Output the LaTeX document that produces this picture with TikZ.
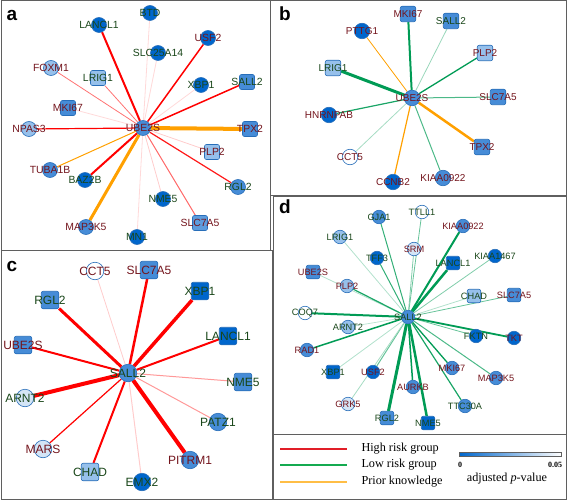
\documentclass[tikz,border=0pt]{standalone}
\usepackage{fontspec}
\setmainfont{Liberation Serif}
\setsansfont{Liberation Sans}
\usetikzlibrary{positioning}
\pgfdeclarelayer{bg}
\pgfsetlayers{bg,main}
\definecolor{hired}{RGB}{255,0,0}
\definecolor{logreen}{RGB}{0,155,85}
\definecolor{prior}{RGB}{255,160,0}
\definecolor{dkblue}{RGB}{0,102,204}
\definecolor{mdblue}{RGB}{70,140,215}
\definecolor{ltblue}{RGB}{150,192,235}
\definecolor{plblue}{RGB}{212,229,246}
\definecolor{ndline}{RGB}{40,110,185}
\definecolor{lbred}{RGB}{115,20,28}
\definecolor{lbgreen}{RGB}{25,70,25}
\definecolor{legred}{RGB}{225,30,40}
\definecolor{leggreen}{RGB}{20,170,80}
\definecolor{legorange}{RGB}{255,190,70}
\definecolor{frame}{RGB}{95,95,95}

\begin{document}
\begin{tikzpicture}[x=1pt,y=-1pt,
  gene/.style={inner sep=0pt,minimum size=15pt,draw=ndline,line width=0.6pt,
    font=\sffamily\fontsize{10.4}{10.4}\selectfont,
    execute at begin node={\hbox to 0pt\bgroup\hss},
    execute at end node={\hss\egroup}},
  cir/.style={gene,circle},
  sqr/.style={gene,rectangle,rounded corners=2pt},
  dk/.style={fill=dkblue}, md/.style={fill=mdblue}, lm/.style={fill=mdblue!70!ltblue},
  lt/.style={fill=ltblue}, pl/.style={fill=plblue}, wh/.style={fill=white},
  rtx/.style={text=lbred}, gtx/.style={text=lbgreen},
  hr/.style={draw=hired!#1!white}, lr/.style={draw=logreen!#1!white},
  pk/.style={draw=prior}, lw/.style={line width=#1pt},
  panel/.style={font=\sffamily\bfseries\fontsize{19}{19}\selectfont},
  box/.style={draw=frame,line width=0.8pt},
  legline/.style={line width=2.6pt},
  legtext/.style={anchor=west,font=\fontsize{12.2}{12.2}\selectfont}]
\useasboundingbox (0,0) rectangle (567,500);

% frames
\draw[box] (1.5,0.5) rectangle (270,250);
\draw[box] (270,0.5) rectangle (566,195);
\draw[box] (1.5,250) rectangle (272,499.5);
\draw[box] (273,196) rectangle (566,434);
\draw[box] (273,434) rectangle (566,499.5);

% panel a
\node[panel] (pa) at (12,15) {a};
\node[cir,md,rtx] (aUBE2S) at (143,128) {UBE2S};
\node[cir,dk,gtx] (aBTD) at (150,13) {BTD};
\node[cir,dk,gtx] (aLANCL1) at (99,25) {LANCL1};
\node[cir,dk,rtx] (aUSF2) at (208,38) {USF2};
\node[cir,dk,gtx] (aSLC25A14) at (158,53) {SLC25A14};
\node[cir,lt,rtx] (aFOXM1) at (51,68) {FOXM1};
\node[sqr,lt,gtx] (aLRIG1) at (98,78) {LRIG1};
\node[cir,dk,gtx] (aXBP1) at (201,85) {XBP1};
\node[sqr,md,gtx] (aSALL2) at (247,82) {SALL2};
\node[sqr,md,rtx] (aMKI67) at (68,108) {MKI67};
\node[cir,lt,rtx] (aNPAS3) at (29,129) {NPAS3};
\node[sqr,md,rtx] (aTPX2) at (250,129) {TPX2};
\node[sqr,lt,rtx] (aPLP2) at (212,152) {PLP2};
\node[cir,md,rtx] (aTUBA1B) at (50,170) {TUBA1B};
\node[cir,dk,gtx] (aBAZ2B) at (85,180) {BAZ2B};
\node[cir,md,gtx] (aRGL2) at (238,187) {RGL2};
\node[cir,dk,gtx] (aNME5) at (163,199) {NME5};
\node[sqr,lm,rtx] (aSLC7A5) at (200,223) {SLC7A5};
\node[cir,md,rtx] (aMAP3K5) at (86,227) {MAP3K5};
\node[cir,dk,gtx] (aMN1) at (137,237) {MN1};
\begin{pgfonlayer}{bg}
\path (aUBE2S) edge[hr=15,lw=0.8] (aBTD)
               edge[hr=100,lw=2] (aLANCL1)
               edge[hr=100,lw=1.5] (aUSF2)
               edge[hr=15,lw=0.8] (aSLC25A14)
               edge[hr=55,lw=0.8] (aFOXM1)
               edge[hr=55,lw=0.8] (aLRIG1)
               edge[hr=15,lw=0.8] (aXBP1)
               edge[hr=100,lw=1.5] (aSALL2)
               edge[hr=15,lw=0.8] (aMKI67)
               edge[hr=100,lw=1.2] (aNPAS3)
               edge[pk,lw=4] (aTPX2)
               edge[hr=20,lw=0.8] (aPLP2)
               edge[pk,lw=1] (aTUBA1B)
               edge[hr=100,lw=2] (aBAZ2B)
               edge[hr=90,lw=1.2] (aRGL2)
               edge[hr=20,lw=0.8] (aNME5)
               edge[hr=60,lw=1] (aSLC7A5)
               edge[pk,lw=3] (aMAP3K5)
               edge[hr=15,lw=0.8] (aMN1);
\end{pgfonlayer}

% panel b
\node[panel] (pb) at (285,14) {b};
\begin{scope}[gene/.append style={minimum size=15.5pt,font=\sffamily\fontsize{10}{10}\selectfont}]
\node[cir,md,rtx] (bUBE2S) at (412,98) {UBE2S};
\node[sqr,md,rtx] (bMKI67) at (408,14) {MKI67};
\node[sqr,md,gtx] (bSALL2) at (451,21) {SALL2};
\node[cir,dk,rtx] (bPTTG1) at (362,31) {PTTG1};
\node[sqr,lt,rtx] (bPLP2) at (485,53) {PLP2};
\node[sqr,lt,gtx] (bLRIG1) at (333,68) {LRIG1};
\node[sqr,md,rtx] (bSLC7A5) at (498,97) {SLC7A5};
\node[cir,dk,rtx] (bHNRNPAB) at (329,115) {HNRNPAB};
\node[sqr,md,rtx] (bTPX2) at (482,147) {TPX2};
\node[cir,wh,rtx] (bCCT5) at (350,157) {CCT5};
\node[cir,dk,rtx] (bCCNB2) at (393,182) {CCNB2};
\node[cir,md,rtx] (bKIAA0922) at (443,178) {KIAA0922};
\end{scope}
\begin{pgfonlayer}{bg}
\path (bUBE2S) edge[lr=100,lw=2] (bMKI67)
               edge[lr=40,lw=0.8] (bSALL2)
               edge[pk,lw=0.8] (bPTTG1)
               edge[lr=100,lw=1.3] (bPLP2)
               edge[lr=100,lw=3] (bLRIG1)
               edge[lr=70,lw=1] (bSLC7A5)
               edge[lr=90,lw=1.2] (bHNRNPAB)
               edge[pk,lw=2.5] (bTPX2)
               edge[lr=35,lw=0.8] (bCCT5)
               edge[pk,lw=1.2] (bCCNB2)
               edge[lr=70,lw=1] (bKIAA0922);
\end{pgfonlayer}

% panel c
\node[panel] (pc) at (12,266) {c};
\begin{scope}[gene/.append style={minimum size=17.5pt,font=\sffamily\fontsize{12}{12}\selectfont}]
\node[cir,md,gtx] (cSALL2) at (128,373) {SALL2};
\node[cir,wh,rtx] (cCCT5) at (95,271) {CCT5};
\node[sqr,md,rtx] (cSLC7A5) at (149,270) {SLC7A5};
\node[sqr,dk,gtx] (cXBP1) at (200,291) {XBP1};
\node[sqr,md,gtx] (cRGL2) at (50,300) {RGL2};
\node[sqr,dk,gtx] (cLANCL1) at (228,336) {LANCL1};
\node[sqr,md,rtx] (cUBE2S) at (23,345) {UBE2S};
\node[sqr,md,gtx] (cNME5) at (243,382) {NME5};
\node[cir,pl,gtx] (cARNT2) at (25,398) {ARNT2};
\node[cir,md,gtx] (cPATZ1) at (218,422) {PATZ1};
\node[cir,pl,rtx] (cMARS) at (43,449) {MARS};
\node[cir,md,rtx] (cPITRM1) at (190,460) {PITRM1};
\node[sqr,lt,gtx] (cCHAD) at (90,472) {CHAD};
\node[cir,dk,gtx] (cEMX2) at (142,482) {EMX2};
\end{scope}
\begin{pgfonlayer}{bg}
\path (cSALL2) edge[hr=20,lw=0.8] (cCCT5)
               edge[hr=100,lw=2.5] (cSLC7A5)
               edge[hr=100,lw=3.5] (cXBP1)
               edge[hr=100,lw=3] (cRGL2)
               edge[hr=100,lw=2] (cLANCL1)
               edge[hr=100,lw=2] (cUBE2S)
               edge[hr=40,lw=1] (cNME5)
               edge[hr=100,lw=4] (cARNT2)
               edge[hr=40,lw=1] (cPATZ1)
               edge[hr=100,lw=1.2] (cMARS)
               edge[hr=100,lw=4] (cPITRM1)
               edge[hr=100,lw=2] (cCHAD)
               edge[hr=20,lw=1] (cEMX2);
\end{pgfonlayer}

% panel d
\node[panel] (pd) at (285,207) {d};
\begin{scope}[gene/.append style={minimum size=13.5pt,font=\sffamily\fontsize{9.2}{9.2}\selectfont}]
\node[cir,md,gtx] (dSALL2) at (408,317) {SALL2};
\node[cir,md,gtx] (dGJA1) at (379,217) {GJA1};
\node[cir,wh,gtx] (dTTLL1) at (422,212) {TTLL1};
\node[cir,md,rtx] (dKIAA0922) at (463,226) {KIAA0922};
\node[cir,lt,gtx] (dLRIG1) at (340,237) {LRIG1};
\node[cir,pl,rtx] (dSRM) at (414,249) {SRM};
\node[cir,dk,gtx] (dTFF3) at (377,258) {TFF3};
\node[cir,dk,gtx] (dKIAA1467) at (495,256) {KIAA1467};
\node[sqr,dk,gtx] (dLANCL1) at (453,263) {LANCL1};
\node[sqr,md,rtx] (dUBE2S) at (313,272) {UBE2S};
\node[cir,lt,rtx] (dPLP2) at (347,286) {PLP2};
\node[sqr,lt,gtx] (dCHAD) at (474,296) {CHAD};
\node[sqr,md,rtx] (dSLC7A5) at (514,295) {SLC7A5};
\node[cir,wh,gtx] (dCOQ7) at (305,313) {COQ7};
\node[cir,lt,gtx] (dARNT2) at (348,327) {ARNT2};
\node[cir,dk,gtx] (dFKTN) at (476,336) {FKTN};
\node[cir,dk,rtx] (dTKT) at (514,338) {TKT};
\node[cir,md,rtx] (dRAD1) at (307,350) {RAD1};
\node[sqr,dk,gtx] (dXBP1) at (333,372) {XBP1};
\node[cir,dk,rtx] (dUSF2) at (373,372) {USF2};
\node[cir,md,rtx] (dMKI67) at (452,368) {MKI67};
\node[cir,md,rtx] (dMAP3K5) at (496,378) {MAP3K5};
\node[cir,md,rtx] (dAURKB) at (413,387) {AURKB};
\node[cir,pl,rtx] (dGRK5) at (348,404) {GRK5};
\node[cir,md,gtx] (dTTC30A) at (465,406) {TTC30A};
\node[sqr,md,gtx] (dRGL2) at (387,418) {RGL2};
\node[sqr,dk,gtx] (dNME5) at (428,423) {NME5};
\end{scope}
\begin{pgfonlayer}{bg}
\path (dSALL2) edge[lr=80,lw=1] (dGJA1)
               edge[lr=60,lw=0.8] (dTTLL1)
               edge[lr=100,lw=2] (dKIAA0922)
               edge[lr=30,lw=0.8] (dLRIG1)
               edge[lr=50,lw=0.8] (dSRM)
               edge[lr=80,lw=1] (dTFF3)
               edge[lr=50,lw=0.8] (dKIAA1467)
               edge[lr=100,lw=2.5] (dLANCL1)
               edge[lr=30,lw=0.8] (dUBE2S)
               edge[lr=90,lw=1.2] (dPLP2)
               edge[lr=30,lw=0.8] (dCHAD)
               edge[lr=60,lw=0.8] (dSLC7A5)
               edge[lr=100,lw=2] (dCOQ7)
               edge[lr=25,lw=0.8] (dARNT2)
               edge[lr=60,lw=0.8] (dFKTN)
               edge[lr=100,lw=1.8] (dTKT)
               edge[lr=100,lw=1.5] (dRAD1)
               edge[lr=30,lw=0.8] (dXBP1)
               edge[lr=60,lw=1] (dUSF2)
               edge[lr=100,lw=1.3] (dMKI67)
               edge[lr=70,lw=1] (dMAP3K5)
               edge[lr=100,lw=1.5] (dAURKB)
               edge[lr=35,lw=0.8] (dGRK5)
               edge[lr=90,lw=1.2] (dTTC30A)
               edge[lr=100,lw=3] (dRGL2)
               edge[lr=100,lw=2.5] (dNME5);
\end{pgfonlayer}

% legend
\node[legtext] (lhigh) at (358,449) {High risk group};
\node[legtext] (llow) at (358,465) {Low risk group};
\node[legtext] (lprior) at (358,482) {Prior knowledge};
\draw[legline,legred] (280,449) -- (347,449);
\draw[legline,leggreen] (280,465) -- (347,465);
\draw[legline,legorange] (280,482) -- (347,482);
\shade[left color=dkblue,right color=white,draw=frame,line width=0.4pt] (459,452) rectangle (561,456.5);
\node[font=\bfseries\fontsize{8}{8}\selectfont] (lzero) at (460,465) {0};
\node[font=\bfseries\fontsize{8}{8}\selectfont] (lmax) at (555,465) {0.05};
\node[font=\fontsize{12.2}{12.2}\selectfont] (lpval) at (507,479) {adjusted \textit{p}-value};
\end{tikzpicture}
\end{document}
